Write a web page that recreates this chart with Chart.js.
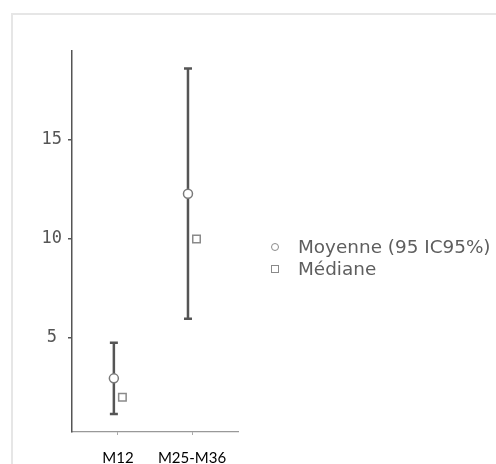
<!DOCTYPE html>
<html>
<head>
<meta charset="utf-8">
<script src="https://cdn.jsdelivr.net/npm/chart.js@4/dist/chart.umd.min.js"></script>
<style>
  html, body { margin: 0; padding: 0; background: #fff; }
  #wrap { position: relative; width: 496px; height: 464px; overflow: hidden; background: #fff; }
  #frame { position: absolute; left: 11px; top: 13px; width: 600px; height: 600px;
           border-left: 2px solid #e6e6e6; border-top: 2px solid #e6e6e6; }
  #chart { position: absolute; left: 0; top: 0; }
  #legend { position: absolute; left: 271px; top: 236px; font-family: "DejaVu Sans", sans-serif;
            font-size: 18.4px; line-height: 22px; color: #5e5e5e; }
  .item { display: flex; align-items: center; white-space: nowrap; }
  .sym { box-sizing: border-box; width: 8px; height: 8px; border: 1.5px solid #8a8a8a;
         background: #fff; margin-right: 19px; }
</style>
</head>
<body>
<div id="wrap">
  <div id="frame"></div>
  <canvas id="chart" width="496" height="464"></canvas>
  <div id="legend"></div>
</div>
<script>
// Time points and summary statistics
const categories   = ['M12', 'M25-M36'];
const meanValues   = [2.96, 12.29];
const ciLower      = [1.16, 5.97];
const ciUpper      = [4.76, 18.62];
const medianValues = [2.0, 10.0];
const yTickValues  = [5, 10, 15];
const seriesLabels = ['Moyenne (95 IC95%)', 'Médiane'];

// Horizontal dodge so the mean and median markers sit side by side
const MEAN_SHIFT = -0.055;
const MEDIAN_SHIFT = 0.06;

const meanPoints   = categories.map((c, i) => ({ x: i + MEAN_SHIFT, y: meanValues[i] }));
const medianPoints = categories.map((c, i) => ({ x: i + MEDIAN_SHIFT, y: medianValues[i] }));

// Confidence-interval whiskers with end caps, drawn beneath the markers
const errorBars = {
  id: 'errorBars',
  beforeDatasetsDraw(chart) {
    const { ctx, scales: { x, y } } = chart;
    ctx.save();
    ctx.strokeStyle = '#555';
    ctx.lineWidth = 2.5;
    categories.forEach((c, i) => {
      const px = x.getPixelForValue(i + MEAN_SHIFT);
      const top = y.getPixelForValue(ciUpper[i]);
      const bot = y.getPixelForValue(ciLower[i]);
      ctx.beginPath();
      ctx.moveTo(px, top); ctx.lineTo(px, bot);
      ctx.moveTo(px - 4, top); ctx.lineTo(px + 4, top);
      ctx.moveTo(px - 4, bot); ctx.lineTo(px + 4, bot);
      ctx.stroke();
    });
    ctx.restore();
  }
};

const chart = new Chart(document.getElementById('chart'), {
  type: 'scatter',
  data: {
    datasets: [
      {
        label: seriesLabels[0],
        data: meanPoints,
        pointStyle: 'circle',
        pointRadius: 4.5,
        pointHoverRadius: 4.5,
        backgroundColor: '#fff',
        borderColor: '#7a7a7a',
        borderWidth: 1.5
      },
      {
        label: seriesLabels[1],
        data: medianPoints,
        pointStyle: 'rect',
        pointRadius: 5.3,
        pointHoverRadius: 5.3,
        backgroundColor: '#fff',
        borderColor: '#8a8a8a',
        borderWidth: 1.5
      }
    ]
  },
  options: {
    responsive: false,
    animation: false,
    layout: { padding: { top: 51, right: 258, bottom: 0, left: 0 } },
    plugins: { legend: { display: false }, tooltip: { enabled: false } },
    scales: {
      x: {
        type: 'linear',
        min: -0.62,
        max: 1.62,
        afterBuildTicks: s => { s.ticks = categories.map((c, i) => ({ value: i })); },
        afterFit: s => { s.height = 32; },
        ticks: {
          autoSkip: false,
          maxRotation: 0,
          padding: 14,
          color: '#000',
          font: { family: 'Lato', size: 15 },
          callback: (v, i) => categories[i]
        },
        grid: { drawOnChartArea: false, drawTicks: true, tickLength: 3, color: '#aaa', lineWidth: 1 },
        border: { display: true, color: '#999', width: 1.2 }
      },
      y: {
        type: 'linear',
        min: 0.25,
        max: 19.5,
        afterBuildTicks: s => { s.ticks = yTickValues.map(v => ({ value: v })); },
        afterFit: s => { s.width = 72; },
        ticks: {
          crossAlign: 'center',
          padding: 6,
          color: '#555',
          font: { family: 'DejaVu Sans Mono', size: 17 }
        },
        grid: { drawOnChartArea: false, drawTicks: true, tickLength: 4, color: '#555', lineWidth: 1.5 },
        border: { display: true, color: '#555', width: 1.5 }
      }
    }
  },
  plugins: [errorBars]
});

// Legend rows built from the datasets
const legendEl = document.getElementById('legend');
chart.data.datasets.forEach(ds => {
  const row = document.createElement('div');
  row.className = 'item';
  const sym = document.createElement('span');
  sym.className = 'sym';
  if (ds.pointStyle === 'circle') sym.style.borderRadius = '50%';
  const txt = document.createElement('span');
  txt.textContent = ds.label;
  row.appendChild(sym);
  row.appendChild(txt);
  legendEl.appendChild(row);
});
</script>
</body>
</html>
